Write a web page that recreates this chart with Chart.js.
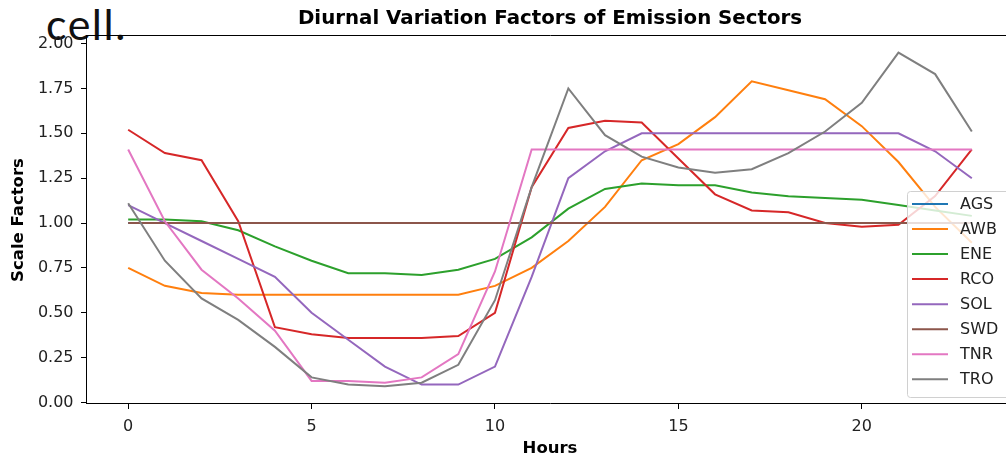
<!DOCTYPE html>
<html>
<head>
<meta charset="utf-8">
<script src="https://cdn.jsdelivr.net/npm/chart.js@4.4.1/dist/chart.umd.min.js"></script>
<style>
  html, body { margin: 0; padding: 0; background: #fff; overflow: hidden; width: 1006px; height: 457px; }
  #wrap { position: absolute; left: 0; top: 0; width: 1020px; height: 470px; z-index: 2; }
  #cellText { position: absolute; left: 46px; top: 3px; font-family: Lato, sans-serif; font-weight: 400; font-size: 43px; line-height: 42px; letter-spacing: 1.5px; color: #111; white-space: nowrap; z-index: 1; }
</style>
</head>
<body>
<div id="cellText">cell.</div>
<div id="wrap"><canvas id="chart" width="1020" height="470"></canvas></div>
<script>
// Diurnal variation factors per emission sector (hour 0..23)
const hours = [0, 1, 2, 3, 4, 5, 6, 7, 8, 9, 10, 11, 12, 13, 14, 15, 16, 17, 18, 19, 20, 21, 22, 23];

const AGS = [1.00, 1.00, 1.00, 1.00, 1.00, 1.00, 1.00, 1.00, 1.00, 1.00, 1.00, 1.00, 1.00, 1.00, 1.00, 1.00, 1.00, 1.00, 1.00, 1.00, 1.00, 1.00, 1.00, 1.00];
const AWB = [0.75, 0.65, 0.61, 0.60, 0.60, 0.60, 0.60, 0.60, 0.60, 0.60, 0.65, 0.75, 0.90, 1.09, 1.35, 1.44, 1.59, 1.79, 1.74, 1.69, 1.54, 1.34, 1.09, 0.89];
const ENE = [1.02, 1.02, 1.01, 0.96, 0.87, 0.79, 0.72, 0.72, 0.71, 0.74, 0.80, 0.92, 1.08, 1.19, 1.22, 1.21, 1.21, 1.17, 1.15, 1.14, 1.13, 1.10, 1.07, 1.04];
const RCO = [1.52, 1.39, 1.35, 1.01, 0.42, 0.38, 0.36, 0.36, 0.36, 0.37, 0.50, 1.20, 1.53, 1.57, 1.56, 1.36, 1.16, 1.07, 1.06, 1.00, 0.98, 0.99, 1.15, 1.41];
const SOL = [1.10, 1.00, 0.90, 0.80, 0.70, 0.50, 0.35, 0.20, 0.10, 0.10, 0.20, 0.70, 1.25, 1.40, 1.50, 1.50, 1.50, 1.50, 1.50, 1.50, 1.50, 1.50, 1.40, 1.25];
const SWD = [1.00, 1.00, 1.00, 1.00, 1.00, 1.00, 1.00, 1.00, 1.00, 1.00, 1.00, 1.00, 1.00, 1.00, 1.00, 1.00, 1.00, 1.00, 1.00, 1.00, 1.00, 1.00, 1.00, 1.00];
const TNR = [1.41, 1.01, 0.74, 0.58, 0.40, 0.12, 0.12, 0.11, 0.14, 0.27, 0.73, 1.41, 1.41, 1.41, 1.41, 1.41, 1.41, 1.41, 1.41, 1.41, 1.41, 1.41, 1.41, 1.41];
const TRO = [1.11, 0.79, 0.58, 0.46, 0.31, 0.14, 0.10, 0.09, 0.11, 0.21, 0.57, 1.20, 1.75, 1.49, 1.37, 1.31, 1.28, 1.30, 1.39, 1.51, 1.67, 1.95, 1.83, 1.51];

const sectorNames = ['AGS', 'AWB', 'ENE', 'RCO', 'SOL', 'SWD', 'TNR', 'TRO'];
const sectorValues = [AGS, AWB, ENE, RCO, SOL, SWD, TNR, TRO];
const sectorColors = ['#1f77b4', '#ff7f0e', '#2ca02c', '#d62728', '#9467bd', '#8c564b', '#e377c2', '#7f7f7f'];

const xTicks = [0, 5, 10, 15, 20];
const yTicks = [0, 0.25, 0.5, 0.75, 1.0, 1.25, 1.5, 1.75, 2.0];

const FONT = 'DejaVu Sans';

// matplotlib style legend box in the lower right of the axes
const legendBox = {
  id: 'legendBox',
  afterDraw(chart) {
    const ctx = chart.ctx;
    const area = chart.chartArea;
    const sets = chart.data.datasets;
    const w = 102, h = 206, rowH = 25.04;
    const x0 = area.right - 5 - w;
    const y0 = area.bottom - 7 - h;
    ctx.save();
    ctx.beginPath();
    ctx.roundRect(x0 + 0.5, y0 + 0.5, w, h, 3);
    ctx.fillStyle = 'rgba(255,255,255,0.8)';
    ctx.fill();
    ctx.strokeStyle = '#d0d0d0';
    ctx.lineWidth = 1;
    ctx.stroke();
    ctx.font = '16px ' + FONT;
    ctx.textBaseline = 'middle';
    ctx.textAlign = 'left';
    sets.forEach((ds, i) => {
      const cy = y0 + 13 + i * rowH;
      ctx.beginPath();
      ctx.moveTo(x0 + 5, cy);
      ctx.lineTo(x0 + 41, cy);
      ctx.strokeStyle = ds.borderColor;
      ctx.lineWidth = 2;
      ctx.stroke();
      ctx.fillStyle = '#222';
      ctx.fillText(ds.label, x0 + 53, cy + 1);
    });
    ctx.restore();
  }
};

// later sectors are drawn on top, as in the original plot
const datasets = sectorNames.map((name, i) => ({
  label: name,
  data: hours.map((h, j) => ({ x: h, y: sectorValues[i][j] })),
  borderColor: sectorColors[i],
  backgroundColor: sectorColors[i],
  borderWidth: 2,
  pointRadius: 0,
  tension: 0,
  fill: false,
  order: sectorNames.length - i
}));

new Chart(document.getElementById('chart'), {
  type: 'line',
  data: { datasets: datasets },
  options: {
    responsive: false,
    animation: false,
    events: [],
    layout: { padding: { left: 0, right: 6, top: 0, bottom: 0 } },
    plugins: {
      legend: { display: false },
      title: { display: false },
      tooltip: { enabled: false }
    },
    scales: {
      x: {
        type: 'linear',
        position: 'bottom',
        min: -1.15,
        max: 24.15,
        afterBuildTicks: s => { s.ticks = xTicks.map(v => ({ value: v })); },
        afterFit: s => { s.height = 66; },
        ticks: { font: { family: FONT, size: 16 }, color: '#222', padding: 8, maxRotation: 0 },
        grid: { display: true, drawOnChartArea: false, drawTicks: true, tickLength: 5, color: '#000' },
        border: { display: true, color: '#000', width: 1 },
        title: {
          display: true, text: 'Hours', color: '#000',
          font: { family: FONT, size: 16.5, weight: 'bold' },
          padding: { top: 0, bottom: 11.8 }
        }
      },
      x2: {
        type: 'linear',
        position: 'top',
        min: -1.15,
        max: 24.15,
        ticks: { display: false },
        grid: { display: false, drawTicks: false, tickLength: 0 },
        border: { display: true, color: '#000', width: 1 },
        title: {
          display: true, text: 'Diurnal Variation Factors of Emission Sectors', color: '#000',
          font: { family: FONT, size: 19.8, weight: 'bold' },
          padding: { top: 7.4, bottom: 4.8 }
        }
      },
      y: {
        type: 'linear',
        min: -0.0084,
        max: 2.0426,
        afterBuildTicks: s => { s.ticks = yTicks.map(v => ({ value: v })); },
        afterFit: s => { s.width = 86; },
        ticks: { font: { family: FONT, size: 16 }, color: '#222', padding: 7.5, callback: v => v.toFixed(2) },
        grid: { display: true, drawOnChartArea: false, drawTicks: true, tickLength: 5, color: '#000' },
        border: { display: true, color: '#000', width: 1 },
        title: {
          display: true, text: 'Scale Factors', color: '#000',
          font: { family: FONT, size: 16.5, weight: 'bold' },
          padding: { top: 9.1, bottom: 0 }
        }
      }
    }
  },
  plugins: [legendBox]
});
</script>
</body>
</html>
